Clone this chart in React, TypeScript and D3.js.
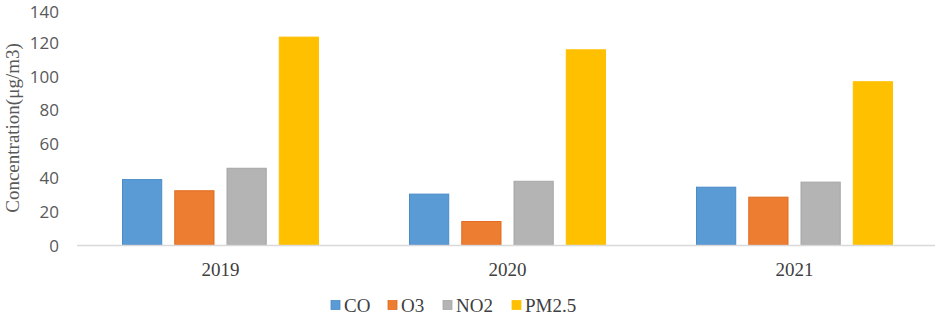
import React from "react";
import * as d3 from "d3";

const years = ["2019", "2020", "2021"];
const pollutants = ["CO", "O3", "NO2", "PM2.5"];
const coValues = [39, 30.4, 34.5];
const o3Values = [32.4, 14.2, 28.6];
const no2Values = [45.7, 38, 37.5];
const pm25Values = [123.3, 115.8, 96.9];
const yTicks = [0, 20, 40, 60, 80, 100, 120, 140];

const colors = ["#5B9BD5", "#ED7D31", "#B4B4B4", "#FFC000"];
const strokes = ["#4A8BC8", "#E06D20", "#A6A6A6", "#FFC000"];

const W = 935;
const H = 314;

const App = () => {
  const series = [coValues, o3Values, no2Values, pm25Values];

  const x0 = d3.scaleBand().domain(years).range([77, 938]).paddingInner(0).paddingOuter(0);
  const x1 = d3.scaleBand().domain(pollutants).range([45, 242]).paddingInner(0.23).paddingOuter(0);
  const y = d3.scaleLinear().domain([0, 140]).range([245, 8.4]);

  // legend positions
  const legendX = [331, 388, 443, 512];

  return (
    <svg width={W} height={H} style={{ position: "absolute", left: 0, top: 0 }}>
      <rect width={W} height={H} fill="#fff" />
      {yTicks.map((t) => (
        <text
          key={t}
          x={59}
          y={Math.max(y(t), 11.5)}
          textAnchor="end"
          dominantBaseline="central"
          fontFamily="'Open Sans', 'DejaVu Sans', sans-serif"
          fontSize={17}
          fill="#595959"
        >
          {t}
        </text>
      ))}
      <text
        transform={`translate(12,128) rotate(-90)`}
        textAnchor="middle"
        dominantBaseline="central"
        fontFamily="'Liberation Serif', 'Times New Roman', serif"
        fontSize={19}
        fill="#595959"
      >
        Concentration(μg/m3)
      </text>
      {years.map((yr, i) => (
        <g key={yr} transform={`translate(${x0(yr)},0)`}>
          {pollutants.map((p, j) => (
            <rect
              key={p}
              x={x1(p)! + 0.5}
              y={y(series[j][i]) + 0.5}
              width={x1.bandwidth() - 1}
              height={y(0) - y(series[j][i]) - 0.5}
              fill={colors[j]}
              stroke={strokes[j]}
              strokeWidth={1}
            />
          ))}
          <text
            x={x0.bandwidth() / 2}
            y={269}
            textAnchor="middle"
            dominantBaseline="central"
            fontFamily="'Liberation Serif', 'Times New Roman', serif"
            fontSize={19}
            fill="#404040"
          >
            {yr}
          </text>
        </g>
      ))}
      <line x1={77} x2={935} y1={245.5} y2={245.5} stroke="#D9D9D9" strokeWidth={1.5} />
      {pollutants.map((p, j) => (
        <g key={p} transform={`translate(${legendX[j]},305)`}>
          <rect x={0} y={-4.5} width={9} height={9} fill={colors[j]} stroke={strokes[j]} strokeWidth={0.8} />
          <text
            x={13}
            y={0}
            dominantBaseline="central"
            fontFamily="'Liberation Serif', 'Times New Roman', serif"
            fontSize={19}
            fill="#404040"
          >
            {p}
          </text>
        </g>
      ))}
    </svg>
  );
};

export default App;
